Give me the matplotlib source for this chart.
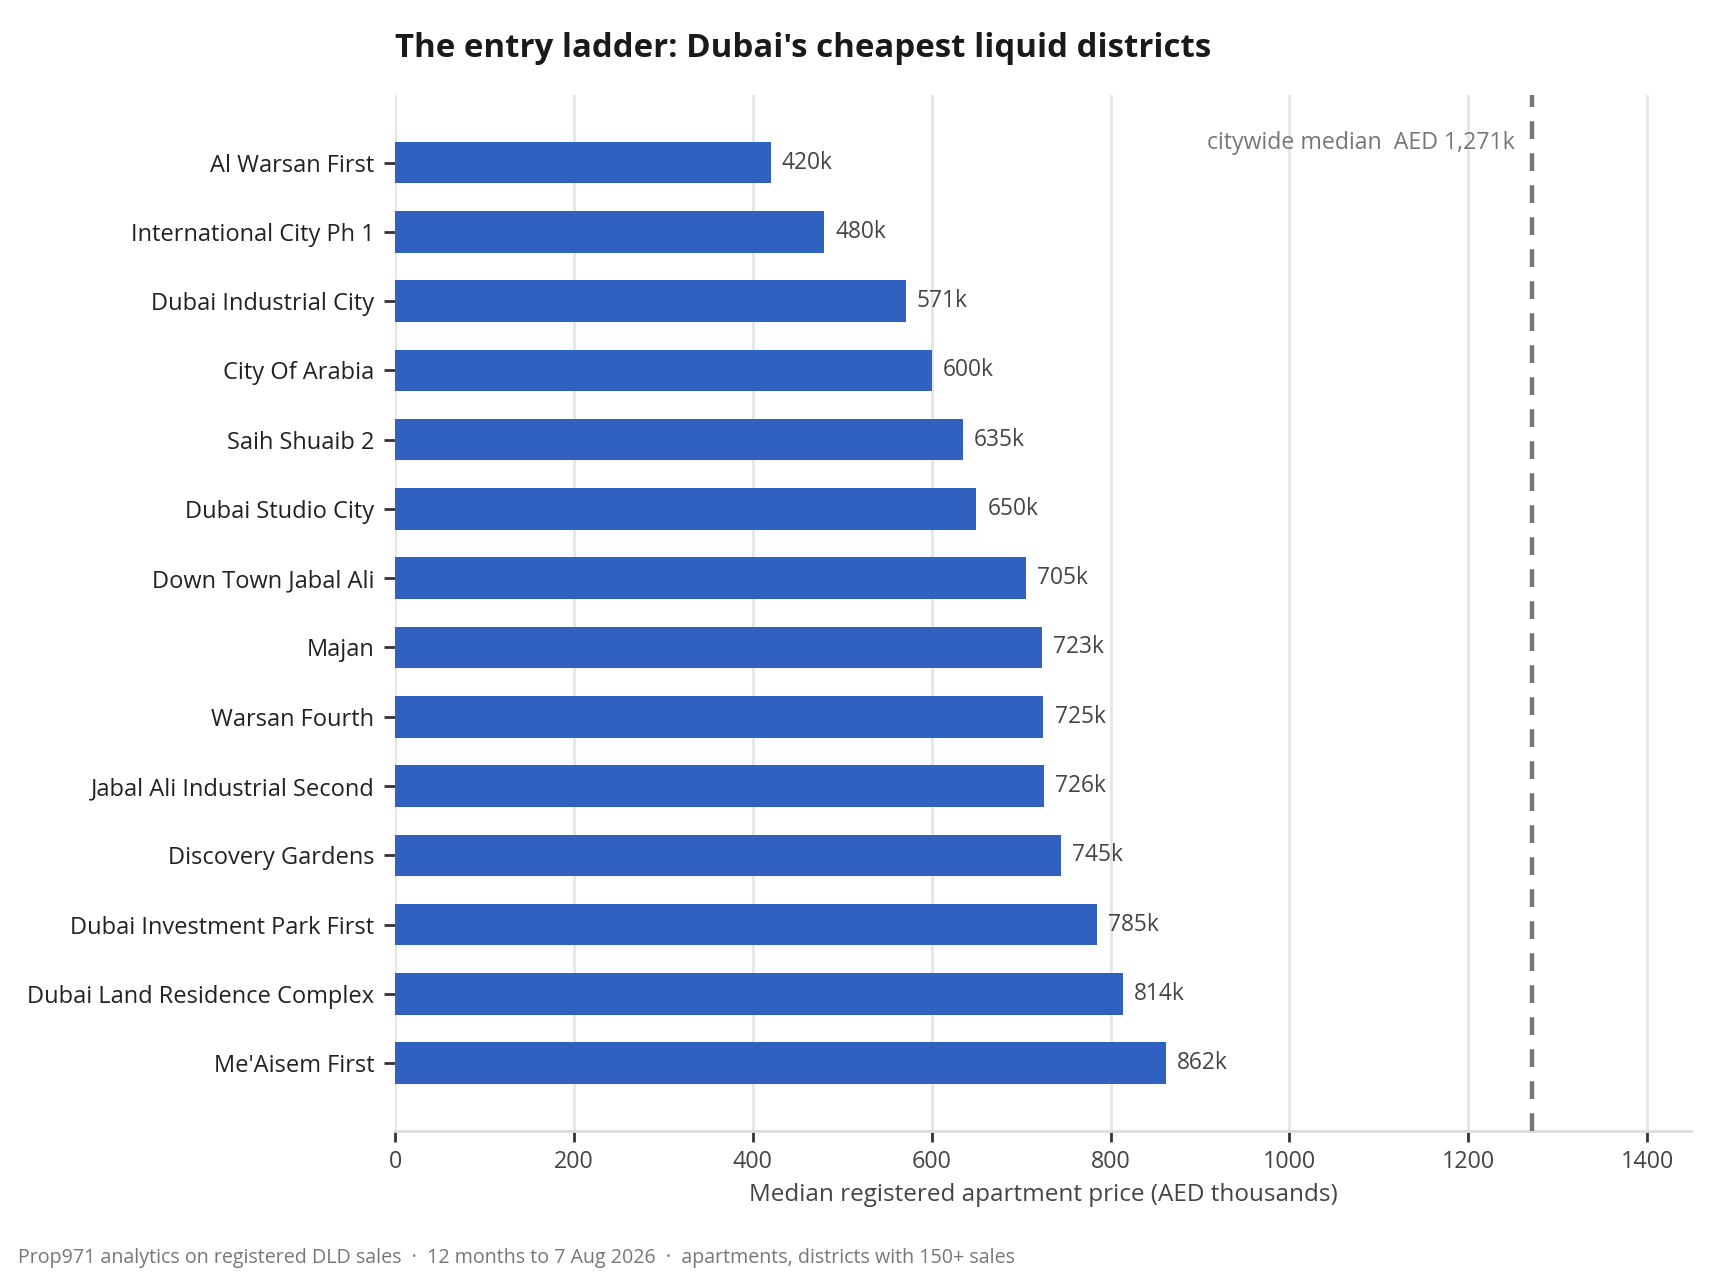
import matplotlib
matplotlib.use("Agg")
import matplotlib.pyplot as plt

districts = [
    "Al Warsan First", "International City Ph 1", "Dubai Industrial City",
    "City Of Arabia", "Saih Shuaib 2", "Dubai Studio City", "Down Town Jabal Ali",
    "Majan", "Warsan Fourth", "Jabal Ali Industrial Second", "Discovery Gardens",
    "Dubai Investment Park First", "Dubai Land Residence Complex", "Me'Aisem First",
]
median_price_k = [420, 480, 571, 600, 635, 650, 705, 723, 725, 726, 745, 785, 814, 862]
citywide_median_k = 1271
xticks = [0, 200, 400, 600, 800, 1000, 1200, 1400]

plt.rcParams['font.family'] = ['Open Sans', 'DejaVu Sans']

fig = plt.figure(figsize=(8.6, 6.4), dpi=200)
ax = fig.add_axes([0.2297, 0.1164, 0.9831 - 0.2297, 0.926 - 0.1164])

bar_color = "#3060c0"
ypos = list(range(len(districts)))
ax.barh(ypos, median_price_k, height=0.6, color=bar_color, zorder=3)
ax.invert_yaxis()
ax.set_yticks(ypos)
ax.set_yticklabels(districts, fontsize=8.5, color="#222222")

for y, v in zip(ypos, median_price_k):
    ax.annotate(f"{v}k", xy=(v, y), xytext=(4, 0), textcoords="offset points",
                va="center", ha="left", fontsize=8.2, color="#444444")

ax.axvline(citywide_median_k, color="#777777", linestyle=(0, (4, 3.2)), linewidth=1.6, zorder=4)
ax.annotate(f"citywide median  AED {citywide_median_k:,}k", xy=(citywide_median_k, -0.29),
            xytext=(-6, 0), textcoords="offset points", ha="right", va="center",
            fontsize=8.35, color="#777777")

ax.set_xlim(0, citywide_median_k * 1.14)
ax.set_xticks(xticks)
ax.set_xticklabels([str(t) for t in xticks], fontsize=8.4, color="#444444")
ax.set_xlabel("Median registered apartment price (AED thousands)", fontsize=8.75,
              color="#444444", labelpad=3)

ax.grid(axis="x", color="#e6e6e6", linewidth=1.0, zorder=0)
ax.set_axisbelow(True)
for s in ["top", "right", "left"]:
    ax.spines[s].set_visible(False)
ax.spines["bottom"].set_color("#dddddd")
ax.spines["bottom"].set_linewidth(1.0)
ax.tick_params(axis="y", length=4, width=1, color="#333333", pad=3.5)
ax.tick_params(axis="x", length=4, width=1, color="#333333", pad=3)

fig.text(0.2297, 0.962, "The entry ladder: Dubai's cheapest liquid districts",
         fontsize=11.9, fontweight="bold", color="#1a1a1a", ha="left", va="center")
fig.text(0.0105, 0.017,
         "Prop971 analytics on registered DLD sales  \u00b7  12 months to 7 Aug 2026  \u00b7  apartments, districts with 150+ sales",
         fontsize=7.05, color="#777777", ha="left", va="center")

fig.savefig("out.png", dpi=200)
